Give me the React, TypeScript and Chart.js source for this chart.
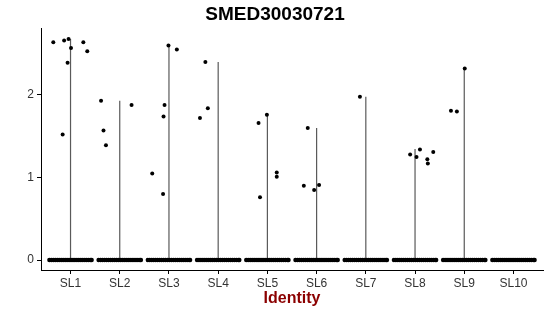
import React, { useEffect, useRef } from "react";
import { Chart, registerables } from "chart.js";

Chart.register(...registerables);

const chartTitle = "SMED30030721";
const xAxisTitle = "Identity";
const categories = ["SL1", "SL2", "SL3", "SL4", "SL5", "SL6", "SL7", "SL8", "SL9", "SL10"];
const yTicks = [0, 1, 2];

// top of each (very thin) violin
const violinMax = [2.68, 1.93, 2.6, 2.4, 1.76, 1.6, 1.98, 1.345, 2.32, 0];

// non-zero cells: group index, horizontal jitter, expression value
const pointGroup = [0, 0, 0, 0, 0, 0, 0, 0, 1, 1, 1, 1, 2, 2, 2, 2, 2, 2, 3, 3, 3, 4, 4, 4, 4, 4, 5, 5, 5, 5, 6, 7, 7, 7, 7, 7, 7, 8, 8, 8];
const pointJitter = [-0.35, -0.13, -0.04, 0.01, 0.26, 0.34, -0.06, -0.16, -0.38, -0.33, -0.28, 0.24, -0.09, -0.11, -0.01, 0.16, -0.34, -0.12, -0.26, -0.21, -0.37, -0.18, -0.01, -0.15, 0.19, 0.19, -0.18, -0.26, -0.05, 0.05, -0.12, -0.1, 0.03, 0.1, 0.25, 0.26, 0.37, 0.01, -0.27, -0.15];
const pointValue = [2.64, 2.66, 2.68, 2.57, 2.64, 2.53, 2.39, 1.52, 1.93, 1.57, 1.39, 1.88, 1.88, 1.74, 2.6, 2.55, 1.05, 0.8, 2.4, 1.84, 1.72, 1.66, 1.76, 0.76, 1.06, 1.01, 1.6, 0.9, 0.85, 0.91, 1.98, 1.28, 1.25, 1.34, 1.22, 1.17, 1.31, 2.32, 1.81, 1.8];

// jitter positions of the many zero-valued cells in each group
const zeroJitter = [-0.43, -0.39, -0.35, -0.31, -0.27, -0.23, -0.19, -0.15, -0.11, -0.07, -0.03, 0.01, 0.05, 0.09, 0.13, 0.17, 0.21, 0.25, 0.29, 0.33, 0.37, 0.41, 0.43];

const FONT = "'Liberation Sans', Arial, Helvetica, sans-serif";

export default function App() {
  const ref = useRef<HTMLCanvasElement | null>(null);

  useEffect(() => {
    document.body.style.margin = "0";
    const canvas = ref.current;
    if (!canvas) return;

    const violinData: { x: number; y: number | null }[] = [];
    categories.forEach((_, i) => {
      if (violinMax[i] > 0) {
        violinData.push({ x: i + 1, y: 0 });
        violinData.push({ x: i + 1, y: violinMax[i] });
        violinData.push({ x: i + 1, y: null });
      }
    });

    const pointData = pointValue.map((v, k) => ({ x: pointGroup[k] + 1 + pointJitter[k], y: v }));
    const zeroData: { x: number; y: number }[] = [];
    categories.forEach((_, i) => {
      zeroJitter.forEach((j) => zeroData.push({ x: i + 1 + j, y: 0 }));
    });

    const titlesPlugin = {
      id: "titles",
      afterDraw(chart: any) {
        const { ctx, chartArea } = chart;
        ctx.save();
        ctx.fillStyle = "#000";
        ctx.textAlign = "center";
        ctx.textBaseline = "middle";
        ctx.font = `bold 19px ${FONT}`;
        ctx.fillText(chartTitle, 275, 15);
        ctx.fillStyle = "#8B0000";
        ctx.font = `bold 16px ${FONT}`;
        ctx.fillText(xAxisTitle, (chartArea.left + chartArea.right) / 2, 299);
        ctx.restore();
      },
    };

    const chart = new Chart(canvas, {
      type: "scatter",
      data: {
        datasets: [
          {
            data: pointData,
            backgroundColor: "#000",
            borderColor: "#000",
            pointRadius: 2,
            borderWidth: 0,
            order: 0,
          } as any,
          {
            data: zeroData,
            backgroundColor: "#000",
            borderColor: "#000",
            pointRadius: 2.2,
            borderWidth: 0,
            order: 1,
          } as any,
          {
            data: violinData,
            showLine: true,
            spanGaps: false,
            borderColor: "#5a5a5a",
            borderWidth: 1.2,
            pointRadius: 0,
            order: 2,
          } as any,
        ],
      },
      options: {
        animation: false,
        responsive: false,
        maintainAspectRatio: false,
        layout: { padding: { top: 28, right: 7, left: 0, bottom: 0 } },
        plugins: {
          legend: { display: false },
          tooltip: { enabled: false },
          title: { display: false },
        },
        scales: {
          x: {
            type: "linear",
            min: 0.4,
            max: 10.6,
            afterBuildTicks: (axis: any) => {
              axis.ticks = categories.map((_, i) => ({ value: i + 1 }));
            },
            afterFit: (axis: any) => {
              axis.height = 46;
            },
            ticks: {
              callback: (v: any) => categories[Number(v) - 1] ?? "",
              color: "#333",
              font: { family: FONT, size: 12 },
              padding: 2,
              maxRotation: 0,
              autoSkip: false,
            },
            grid: { drawOnChartArea: false, tickLength: 4, color: "#000", lineWidth: 1 },
            border: { display: true, color: "#000", width: 1 },
          },
          y: {
            type: "linear",
            min: -0.121,
            max: 2.812,
            afterBuildTicks: (axis: any) => {
              axis.ticks = yTicks.map((v) => ({ value: v }));
            },
            afterFit: (axis: any) => {
              axis.width = 41;
            },
            ticks: {
              color: "#333",
              font: { family: FONT, size: 12 },
              padding: 3,
            },
            grid: { drawOnChartArea: false, tickLength: 4, color: "#000", lineWidth: 1 },
            border: { display: true, color: "#000", width: 1 },
          },
        },
      } as any,
      plugins: [titlesPlugin],
    });

    return () => chart.destroy();
  }, []);

  return (
    <div style={{ width: 550, height: 316 }}>
      <canvas ref={ref} width={550} height={316} style={{ width: 550, height: 316, display: "block" }} />
    </div>
  );
}
